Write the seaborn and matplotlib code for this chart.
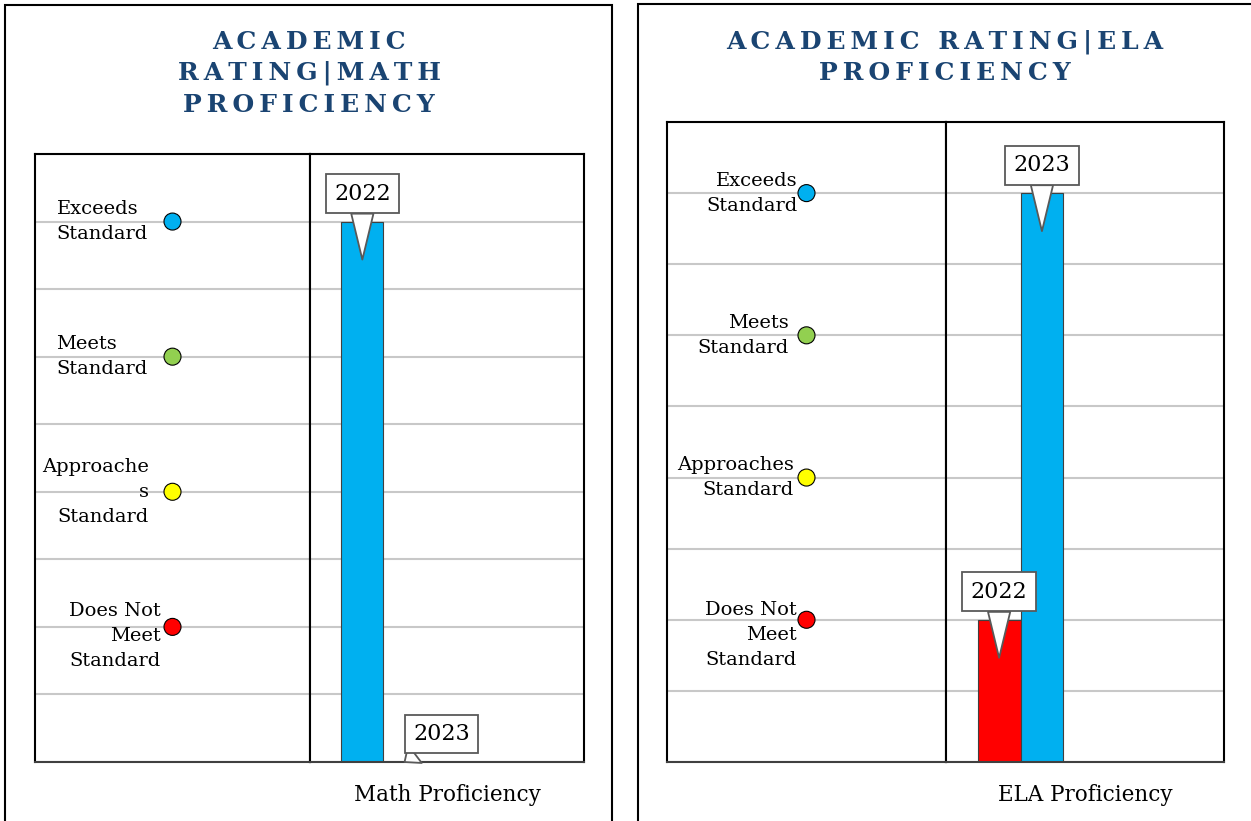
import matplotlib.pyplot as plt
import matplotlib.transforms as mtransforms
from matplotlib.patches import Rectangle
import pandas as pd
import seaborn as sns

# rating levels (bottom to top) and their marker colours
levels = ['Does Not Meet Standard', 'Approaches Standard', 'Meets Standard', 'Exceeds Standard']
level_values = [2, 4, 6, 8]
level_colors = ['#FF0000', '#FFFF00', '#92D050', '#00B0F0']

years = ['2022', '2023']
math_scores = [8, 0]
ela_scores = [2, 8]

math_labels = ['Does Not\nMeet\nStandard', 'Approache\ns\nStandard', 'Meets\nStandard', 'Exceeds\nStandard']
ela_labels = ['Does Not\nMeet\nStandard', 'Approaches\nStandard', 'Meets\nStandard', 'Exceeds\nStandard']

math_title = ['ACADEMIC', 'RATING|MATH', 'PROFICIENCY']
ela_title = ['ACADEMIC RATING|ELA', 'PROFICIENCY']

sns.set_style('white')
plt.rcParams['font.family'] = ['DejaVu Serif']
plt.rcParams['text.color'] = 'black'

W, H = 1251, 821
fig = plt.figure(figsize=(W / 100, H / 100), dpi=100)

TITLE_COLOR = '#1A4472'
GRID_COLOR = '#C8C8C8'
THIN = '\u2009'


def fx(px):
    return px / W


def fy(py):
    return 1 - py / H


def spaced(s):
    # letter-spaced caps: thin space between letters, wider gap between words
    words = s.split(' ')
    return (THIN + ' ' + THIN).join(THIN.join(w) for w in words)


def bar_color(v):
    if v in level_values:
        return level_colors[level_values.index(v)]
    return level_colors[-1]


def callout(ax, x, value, text):
    # speech-bubble label pointing into the bar
    if value > 0:
        tip, off = -38, (0, 66)
    else:
        tip, off = 0, (37, 28)
    trans = ax.transData + mtransforms.ScaledTranslation(0, tip / 100, fig.dpi_scale_trans)
    ax.annotate(text, xy=(x, value), xycoords=trans, xytext=off, textcoords='offset pixels',
                ha='center', va='center', fontsize=16, annotation_clip=False, zorder=5,
                bbox=dict(boxstyle='square,pad=0.38', fc='white', ec='#595959', lw=1.3),
                arrowprops=dict(arrowstyle='wedge,tail_width=1.0,shrink_factor=0.5',
                                fc='white', ec='#595959', lw=1.3, shrinkA=0, shrinkB=0))


def draw_chart(x0, xdiv, x1, ytop, ybot, scores, labels, layout, xlabel):
    ax_l = fig.add_axes([fx(x0), fy(ybot), fx(xdiv - x0), (ybot - ytop) / H])
    ax_b = fig.add_axes([fx(xdiv), fy(ybot), fx(x1 - xdiv), (ybot - ytop) / H])

    for ax in (ax_l, ax_b):
        ax.set_ylim(0, 9)
        ax.set_yticks(range(10))
        ax.grid(axis='y', color=GRID_COLOR, lw=1.5)
        ax.grid(axis='x', visible=False)
        ax.set_axisbelow(True)
        ax.tick_params(length=0, labelleft=False, labelbottom=False)
        for s in ax.spines.values():
            s.set_color('black')
            s.set_linewidth(1.5)
        ax.spines['bottom'].set_color('#404040')

    # level markers with their names
    sns.scatterplot(x=[0.5] * len(level_values), y=level_values, hue=levels, hue_order=levels,
                    palette=level_colors, s=150, edgecolor='black', linewidth=0.8,
                    legend=False, ax=ax_l, zorder=4)
    for val, lab, (dx, dy, ha) in zip(level_values, labels, layout):
        ax_l.annotate(lab, xy=(0.5, val), xytext=(dx, dy), textcoords='offset pixels',
                      ha=ha, va='center', fontsize=14, linespacing=1.5, annotation_clip=False)
    ax_l.set_xlim(0, 1)
    ax_l.set_xlabel('')
    ax_l.set_ylabel('')

    # bars per year
    df = pd.DataFrame({'year': years, 'score': scores})
    sns.barplot(data=df, x='year', y='score', hue='year', palette=[bar_color(v) for v in scores],
                saturation=1, width=1.0, edgecolor='#404040', linewidth=0.8, legend=False,
                ax=ax_b, zorder=2)
    ax_b.set_xlim(-1.24, 5.25)
    ax_b.set_ylim(0, 9)
    ax_b.set_ylabel('')
    ax_b.set_xlabel('')
    ax_b.annotate(xlabel, xy=(0.5, 0), xycoords='axes fraction', xytext=(0, -33),
                  textcoords='offset pixels', ha='center', va='center', fontsize=15.5,
                  annotation_clip=False)
    for i, (yr, v) in enumerate(zip(years, scores)):
        callout(ax_b, i, v, yr)


# panel frames
fig.add_artist(Rectangle((fx(5), -0.1), fx(612 - 5), 0.1 + fy(5), transform=fig.transFigure,
                         fill=False, ec='black', lw=1.5))
fig.add_artist(Rectangle((fx(638), -0.1), fx(1256 - 638), 0.1 + fy(4), transform=fig.transFigure,
                         fill=False, ec='black', lw=1.5))

# titles
for line, y in zip(math_title, [42, 73, 105]):
    fig.text(fx(309), fy(y), spaced(line), ha='center', va='center', fontsize=18,
             fontweight='bold', color=TITLE_COLOR)
for line, y in zip(ela_title, [42, 73]):
    fig.text(fx(945), fy(y), spaced(line), ha='center', va='center', fontsize=18,
             fontweight='bold', color=TITLE_COLOR)

draw_chart(35, 310, 584, 154, 762, math_scores, math_labels,
           [(-12, -9, 'right'), (-24, 0, 'right'), (-116, 0, 'left'), (-116, 0, 'left')],
           'Math Proficiency')
draw_chart(667, 946, 1224, 122, 762, ela_scores, ela_labels,
           [(-10, -15, 'right'), (-13, 0, 'right'), (-18, 0, 'right'), (-9, 0, 'right')],
           'ELA Proficiency')

fig.savefig('out.png', dpi=100)
